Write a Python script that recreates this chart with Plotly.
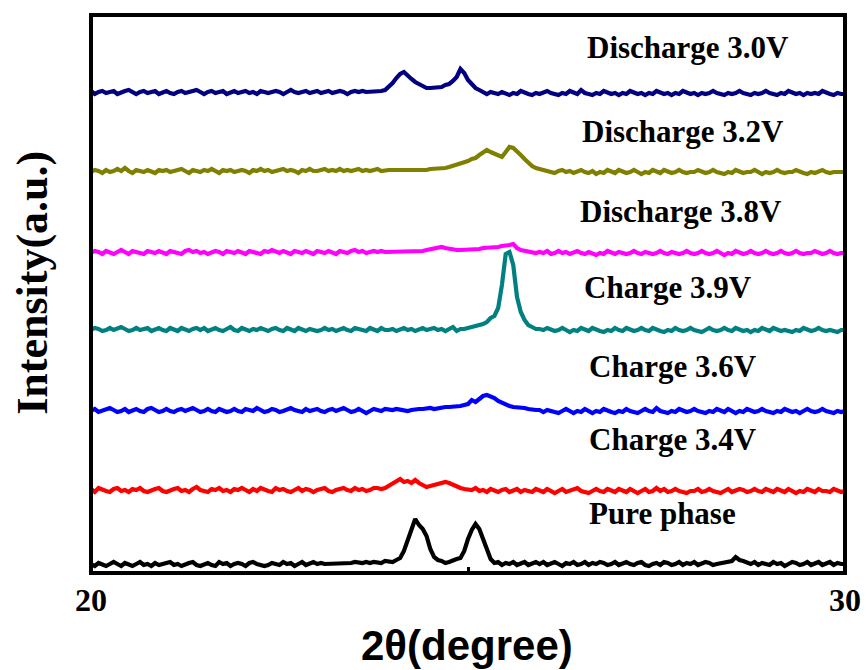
import numpy as np
import plotly.graph_objects as go

# 2-theta grid, 0.05 degree steps from 20 to 30
two_theta = np.round(np.arange(20.0, 30.0001, 0.05), 2)

# Patterns listed from bottom to top (intensity above each pattern's own baseline, a.u.)
labels = ["Pure phase", "Charge 3.4V", "Charge 3.6V", "Charge 3.9V",
          "Discharge 3.8V", "Discharge 3.2V", "Discharge 3.0V"]
colors = ["#000000", "#ff0000", "#0000ff", "#008080", "#ff00ff", "#808000", "#000080"]
offsets = [8, 82, 162, 243, 320, 401, 480]

pure_phase = [
    1, -1, 2, 0, -1, 1, 3, 1, -1, 2, 1, -1, 1, 3, 0, 1, -1, 2, 0, 1,
    2, 3, 0, 1, -1, 1, 2, 3, 0, -1, 1, 2, 0, -1, 3, 1, 2, -1, 1, 2,
    1, -1, 2, 3, 1, 0, -1, 0, 2, 1, 0, 3, 1, 2, -1, 1, 3, 0, 2, 3,
    1, 2, 1, 1, 2, 1, 2, 2, 1, 2, 3, 2, 2, 3, 2, 3, 3, 2, 4, 3,
    3, 5, 7, 14, 24, 34, 46, 40, 36, 29, 16, 8, 5, 4, 2, 3, 5, 6, 7, 14,
    26, 35, 41, 36, 26, 17, 6, 2, 3, 0, 2, 1, 3, 0, 1, 3, 0, 2, 3, 1,
    3, 0, 1, 3, 1, -1, 2, 1, 3, 0, 1, 3, 0, 2, 1, 3, 2, 0, 1, 3,
    0, 2, 3, 1, 0, 2, 3, 0, -1, 1, 2, 0, 3, 2, 0, 1, 3, 0, 2, 1,
    3, 0, 1, 3, 2, 0, 1, 2, 2, 3, 4, 8, 5, 4, 3, 1, 3, 0, 2, 1,
    0, 3, 1, 2, -1, 1, 3, 2, 0, 1, 3, 0, 2, 3, 0, 1, 3, 0, 2, 1,
    1,
]

charge_34 = [
    2, -1, 3, 1, 0, -1, 2, 3, 0, 1, -1, 2, 1, 3, 0, -1, 1, 2, 3, 0,
    -1, 1, 2, 3, 0, 1, -1, 2, 4, 1, 0, -1, 2, 1, 3, 0, 1, -1, 2, 1,
    3, 1, -1, 2, 0, 3, 1, 0, -1, 3, 1, 2, 0, -1, 1, 3, 0, 2, 1, -1,
    1, 2, 3, 0, -1, 1, 2, 3, 1, 0, 3, 1, 2, 0, 1, 3, 3, 2, 3, 5,
    8, 10, 12, 9, 10, 8, 11, 8, 6, 4, 5, 6, 8, 9, 9, 8, 6, 4, 3, 2,
    2, 1, 3, 0, 1, -1, 2, 1, -1, 1, 2, -1, 0, 2, -1, 1, 0, -1, 2, 0,
    -1, 2, 0, -2, 0, 2, -1, 0, 2, 3, 0, -1, -2, 0, 2, 0, -1, 2, 0, -1,
    2, 0, -1, 2, 0, -2, 0, 2, -1, 0, 3, 0, 2, -1, 0, 2, 0, -1, -2, 0,
    0, 2, -1, 0, 2, 0, -1, -2, 0, 2, -1, 0, 2, 1, -1, 0, 2, 0, -1, 2,
    0, -1, 2, 0, -1, 2, 0, -2, 0, -1, 2, 0, -1, 2, 0, 0, -1, 2, 0, -1,
    0,
]

charge_36 = [
    0, 2, -1, 0, 2, 3, 1, -1, 0, 2, -1, 1, 2, 0, -1, 2, 3, 1, -1, 0,
    2, 0, -1, 1, 2, 0, 1, 3, 1, -1, 0, 2, 0, -1, 2, 1, -1, 0, 2, 0,
    -1, 2, 1, 0, 3, 1, -1, 0, 2, 1, -1, 0, 2, 3, 1, 0, -1, 2, 0, 1,
    2, 0, -1, 1, 2, 0, 1, 3, 1, -1, 0, 2, 0, -2, 0, 2, 1, 0, 2, 1,
    1, 2, 1, 1, 0, 1, 2, 2, 2, 3, 3, 2, 3, 3, 4, 4, 4, 5, 5, 6,
    7, 11, 9, 12, 15, 16, 15, 13, 10, 8, 7, 5, 4, 4, 3, 3, 2, 1, 1, 1,
    -1, 1, 0, -1, -2, 0, 2, 0, -2, 0, -1, 2, 0, -2, 0, -1, 2, 0, -1, -2,
    0, -1, 2, 0, -1, -2, 0, 2, 0, -1, 3, 0, -1, -2, 0, -1, 2, 0, -1, 0,
    2, 0, -1, -2, 0, -1, 2, 0, -1, 2, 0, -2, 0, -1, 2, 0, -1, 0, 2, 0,
    -1, -2, 0, -1, 2, 0, -1, 0, -2, 0, 2, 0, -1, 0, 2, 0, -1, -2, 0, -1,
    0,
]

charge_39 = [
    0, 2, 1, -1, 0, 2, 0, 1, 3, 1, -1, 0, 2, 0, 1, 2, -1, 0, 2, 0,
    -1, 2, 0, -1, 2, 0, -1, 1, 2, 0, 2, -1, 0, 2, 0, -1, 1, 3, 0, -1,
    2, 0, -1, 1, 0, 2, 0, -1, 1, 2, 0, -1, 2, 0, -1, 2, 0, -1, 1, 0,
    -1, 0, 2, 0, 1, -1, 0, 2, 0, -1, 2, 1, 0, -1, 2, 0, -1, 2, 0, 0,
    1, -1, 0, 2, 0, 1, -1, 0, 2, 0, 1, 2, 0, 1, -1, 1, 3, -1, 1, 1,
    2, 2, 3, 4, 6, 8, 12, 14, 22, 45, 76, 78, 65, 33, 18, 10, 5, 3, 1, 1,
    0, 2, 0, -1, 0, 2, 0, -2, 0, -1, 2, 0, -1, 2, 0, -1, -2, 0, -1, 2,
    0, -1, 2, 0, -1, 0, 2, 0, -1, 2, 0, -1, -2, 0, -1, 2, 0, -1, 0, 2,
    0, -1, -2, 0, 2, 0, -1, 0, 2, 0, -1, 2, 0, -1, 0, -2, 0, -1, 2, 0,
    -1, 2, 0, -1, 0, -1, -2, 0, -1, 2, 0, -1, 0, 2, 0, -1, 0, -1, -2, 0,
    0,
]

discharge_38 = [
    0, 2, 1, -1, 2, 0, -1, 1, 3, 1, -1, 2, 1, 0, -1, 2, 1, 0, 2, 1,
    -1, 2, 1, 0, -1, 2, 3, 1, 2, 0, 1, -1, 0, 2, 1, -1, 2, 1, 0, 2,
    1, -1, 2, 1, 0, -1, 2, 1, 3, 1, 0, 2, 1, -1, 2, 1, 0, 2, 1, -1,
    2, 1, 0, 2, 1, -1, 2, 1, 0, 2, 3, 1, 2, 0, 1, 2, 1, 2, 1, 1,
    1, 1, 2, 1, 2, 2, 2, 1, 2, 3, 4, 5, 5, 6, 5, 4, 4, 3, 3, 3,
    4, 3, 4, 4, 5, 5, 5, 6, 6, 7, 7, 8, 9, 5, 3, 2, 1, 1, 0, 1,
    0, 2, -1, 0, 2, 0, 1, -1, 0, 2, 0, -1, 1, 0, -2, 0, -1, 2, 0, -1,
    1, 0, -1, 0, 2, 0, -1, 1, 0, -1, 0, 2, 0, -1, 1, 0, -1, 0, 2, 0,
    -1, 0, 2, 0, -1, 0, 2, 0, -2, 0, -1, 2, 0, -1, 0, 2, 0, -1, 0, 2,
    0, -1, 0, 2, 0, -1, 0, 2, 0, -1, 0, 0, 2, 0, -1, 0, 2, 0, -1, 0,
    0,
]

discharge_32 = [
    0, 2, 1, -1, 2, 0, 1, 3, 1, 4, 1, -1, 2, 1, 0, 2, 1, -1, 2, 1,
    2, 0, 1, 2, 3, 1, -1, 2, 1, 0, 2, 1, 3, 1, -1, 2, 1, 2, 0, 1,
    2, 1, -1, 2, 1, 3, 1, 2, 0, 1, 2, 3, 1, 2, 1, -1, 2, 1, 3, 1,
    1, 2, 3, 1, 2, 1, 3, 1, 2, 1, 2, 3, 1, 2, 1, 2, 3, 1, 2, 2,
    2, 2, 1, 2, 2, 2, 2, 2, 2, 2, 3, 3, 3, 4, 4, 5, 6, 8, 9, 9,
    11, 13, 14, 17, 19, 22, 20, 18, 17, 15, 20, 25, 24, 21, 17, 13, 9, 6, 4, 3,
    2, 1, 1, -1, 1, 2, 0, 1, -1, 0, 2, 0, -1, 1, -2, 0, -1, 2, 0, -1,
    2, 0, -1, 0, 2, 0, -2, 0, -1, 2, 0, -1, 2, 0, -1, 0, 2, 0, -1, 0,
    0, 2, 0, -1, 0, 2, 0, -1, -2, 0, -1, 2, 0, -1, 0, 0, 2, 0, -2, 0,
    -1, 0, 2, 0, -1, 0, 0, 2, 0, -1, -2, 0, -1, 0, 2, 0, -1, 0, 0, -1,
    0,
]

discharge_30 = [
    2, -1, 1, 2, 0, 1, 2, -1, 1, 2, 3, 1, -1, 1, 2, 0, 1, 2, -1, 1,
    2, 0, -1, 1, 2, 0, 1, 2, 3, 1, -1, 1, 2, 0, 1, 2, -1, 1, 2, 0,
    1, 2, 0, 1, -1, 2, 1, 0, 1, 2, 1, -1, 1, 3, 1, 0, 1, 2, 0, 1,
    2, 0, 1, 2, 0, 1, 2, 1, -1, 1, 2, 1, 2, 1, 1, 2, 1, 2, 3, 6,
    10, 15, 19, 21, 17, 14, 11, 9, 6, 5, 5, 5, 6, 6, 8, 9, 12, 16, 24, 20,
    13, 9, 5, 3, 1, -1, 1, 0, -1, 1, 0, -2, 0, -1, 2, 0, -1, -2, 0, -1,
    0, 2, 0, -1, -2, 0, -1, 2, 0, -1, 3, 0, -1, -2, 0, -1, 2, 0, -1, 0,
    -2, 0, -1, 2, 0, -1, 0, -2, 0, -1, 2, 0, -1, 0, -2, 0, -1, 2, 0, -1,
    0, -2, 0, -1, 0, 2, 0, -1, -2, 0, -1, 0, 2, 0, -1, -2, 0, -1, 0, 2,
    0, -1, -2, 0, -1, 2, 0, -1, 0, -2, 0, -1, 0, -1, 2, 0, -1, -2, 0, -1,
    -1,
]

patterns = [pure_phase, charge_34, charge_36, charge_39,
            discharge_38, discharge_32, discharge_30]

# Label anchor points (2-theta of the left edge, stacked intensity of the text centre)
label_x = [26.58, 26.58, 26.58, 26.51, 26.46, 26.49, 26.55]
label_y = [60, 134, 207, 286, 362, 442, 526]

SERIF = "Liberation Serif, Times New Roman, serif"
SANS = "Liberation Sans, Arial, sans-serif"

fig = go.Figure()
for name, col, off, vals in zip(labels, colors, offsets, patterns):
    fig.add_trace(go.Scatter(
        x=two_theta, y=np.asarray(vals) + off, mode="lines", name=name,
        line=dict(color=col, width=4.2), showlegend=False,
    ))

for name, lx, ly in zip(labels, label_x, label_y):
    fig.add_annotation(x=lx, y=ly, xref="x", yref="y", text=f"<b>{name}</b>",
                       showarrow=False, xanchor="left", yanchor="middle",
                       font=dict(family=SERIF, size=31, color="black"))

# axis titles
fig.add_annotation(x=0.499, y=-0.13, xref="paper", yref="paper", text="<b>2θ(degree)</b>",
                   showarrow=False, xanchor="center", yanchor="middle",
                   font=dict(family=SANS, size=42, color="black"))
fig.add_annotation(x=-0.077, y=0.52, xref="paper", yref="paper", text="<b>Intensity(a.u.)</b>",
                   showarrow=False, textangle=-90, xanchor="center", yanchor="middle",
                   font=dict(family=SERIF, size=44, color="black"))

# plot frame
fig.add_shape(type="rect", xref="paper", yref="paper", x0=0, y0=0, x1=1, y1=1,
              line=dict(color="black", width=4), layer="above")

fig.update_xaxes(range=[20, 30], tickvals=[20, 25, 30], ticktext=["<b>20</b>", "", "<b>30</b>"],
                 ticks="inside", ticklen=6, tickwidth=3, tickcolor="black",
                 showgrid=False, zeroline=False, showline=False,
                 ticklabelstandoff=5, automargin=False,
                 tickfont=dict(family=SERIF, size=32, color="black"))
fig.update_yaxes(range=[0, 558], showticklabels=False, ticks="", showgrid=False,
                 zeroline=False, showline=False, automargin=False)

fig.update_layout(width=866, height=670, margin=dict(l=91, r=21, t=15, b=97),
                  plot_bgcolor="white", paper_bgcolor="white")

fig.write_html("out.html")
